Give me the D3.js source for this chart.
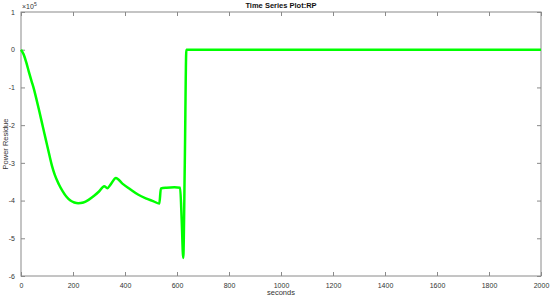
<!DOCTYPE html>
<html>
<head>
<meta charset="utf-8">
<script src="https://cdn.jsdelivr.net/npm/d3@7"></script>
<style>
  body { margin: 0; background: #fff; }
  svg { display: block; font-family: "Liberation Sans", Arial, sans-serif; }
</style>
</head>
<body>
<svg id="chart" width="550" height="298"></svg>
<script>
// time (s) and power residue (x1e5)
const seconds = [0, 10, 20, 30, 40, 50, 60, 70, 80, 90, 100, 110, 120, 130, 145, 160, 175, 190, 205, 220,
  240, 260, 280, 300, 320, 332, 345, 365, 390, 420, 450, 480, 510, 532, 538, 560, 590, 612, 618, 624,
  630, 636, 700, 1000, 1500, 2000];
const residue = [0, -0.12, -0.33, -0.58, -0.82, -1.05, -1.33, -1.62, -1.92, -2.22, -2.52, -2.82, -3.1, -3.32, -3.56, -3.75, -3.9, -4.0, -4.05, -4.07,
  -4.05, -3.98, -3.88, -3.76, -3.62, -3.67, -3.57, -3.4, -3.55, -3.7, -3.84, -3.94, -4.02, -4.08, -3.68, -3.66, -3.65, -3.66, -4.5, -5.52,
  -3.0, 0, 0, 0, 0, 0];
const xTicks = [0, 200, 400, 600, 800, 1000, 1200, 1400, 1600, 1800, 2000];
const yTicks = [1, 0, -1, -2, -3, -4, -5, -6];

const margin = {top: 12, right: 9, bottom: 22, left: 21};
const W = 550, H = 298;
const svg = d3.select("#chart");

const x = d3.scaleLinear().domain([0, 2000]).range([margin.left, W - margin.right]);
const y = d3.scaleLinear().domain([-6, 1]).range([H - margin.bottom, margin.top]);

const axisColor = "#8a8a8a";
const textColor = "#333";

// box
svg.append("rect")
    .attr("x", x(0)).attr("y", y(1))
    .attr("width", x(2000) - x(0)).attr("height", y(-6) - y(1))
    .attr("fill", "#fff").attr("stroke", axisColor).attr("stroke-width", 1);

// ticks on all four sides, pointing in
const xa = svg.append("g").attr("transform", `translate(0,${y(-6)})`)
    .call(d3.axisBottom(x).tickValues(xTicks).tickFormat(d3.format("d")).tickSizeInner(-4).tickSizeOuter(0).tickPadding(7));
const xt = svg.append("g").attr("transform", `translate(0,${y(1)})`)
    .call(d3.axisTop(x).tickValues(xTicks).tickSizeInner(-4).tickSizeOuter(0).tickFormat(""));
const ya = svg.append("g").attr("transform", `translate(${x(0)},0)`)
    .call(d3.axisLeft(y).tickValues(yTicks).tickFormat(d => String(d)).tickSizeInner(-4).tickSizeOuter(0).tickPadding(6));
const yr = svg.append("g").attr("transform", `translate(${x(2000)},0)`)
    .call(d3.axisRight(y).tickValues(yTicks).tickSizeInner(-4).tickSizeOuter(0).tickFormat(""));

[xa, xt, ya, yr].forEach(g => {
  g.select(".domain").remove();
  g.selectAll("line").attr("stroke", axisColor);
  g.selectAll("text").attr("fill", textColor).style("font-size", "7px")
      .style("font-family", "'Liberation Sans', Arial, sans-serif");
});

// line
const line = d3.line().x((d, i) => x(seconds[i])).y(d => y(d)).curve(d3.curveMonotoneX);
svg.append("path")
    .datum(residue)
    .attr("d", line)
    .attr("fill", "none")
    .attr("stroke", "#00ff00")
    .attr("stroke-width", 2.5)
    .attr("stroke-linejoin", "round");

// exponent label
const ex = svg.append("text").attr("x", x(0) + 1).attr("y", 9)
    .attr("fill", textColor).style("font-size", "7px");
ex.append("tspan").text("\u00d710");
ex.append("tspan").attr("dy", -3).style("font-size", "5px").text("5");

// title
svg.append("text")
    .attr("x", (x(0) + x(2000)) / 2).attr("y", 8)
    .attr("text-anchor", "middle")
    .attr("fill", "#111")
    .style("font-size", "7.5px").style("font-weight", "bold")
    .text("Time Series Plot:RP");

// axis labels
svg.append("text")
    .attr("x", (x(0) + x(2000)) / 2).attr("y", 295)
    .attr("text-anchor", "middle")
    .attr("fill", textColor).style("font-size", "7.5px")
    .text("seconds");

svg.append("text")
    .attr("transform", `translate(8,${(y(1) + y(-6)) / 2}) rotate(-90)`)
    .attr("text-anchor", "middle")
    .attr("fill", textColor).style("font-size", "7.5px")
    .text("Power Residue");
</script>
</body>
</html>
